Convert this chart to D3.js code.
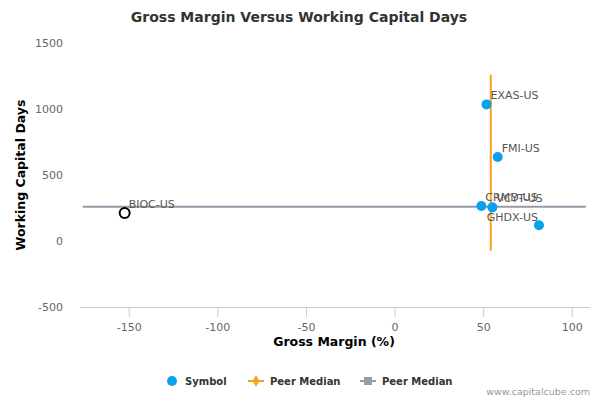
<!DOCTYPE html>
<html><head><meta charset="utf-8">
<script src="https://cdn.jsdelivr.net/npm/d3@7/dist/d3.min.js"></script>
<style>body{margin:0;background:#fff;}svg{display:block;font-family:"DejaVu Sans",sans-serif;}</style>
</head><body>
<svg id="c" width="600" height="400"></svg>
<script>
const symbols = ["EXAS-US","FMI-US","CRMD-US","VCYT-US","GHDX-US"];
const grossMargin = [51.9, 58.2, 49.0, 55.2, 81.5];
const wcDays = [1035, 636, 265, 255, 119];
const focusSymbol = ["BIOC-US"];
const focusGM = [-152.3];
const focusWCD = [212];
const medianGM = 54.3;
const medianWCD = 260;
const vMedianRange = [-75, 1260];
const hMedianRange = [-176, 108];
const xTicks = [-150,-100,-50,0,50,100];
const yTicks = [-500,0,500,1000,1500];

const svg = d3.select("#c");
const L=80,R=590,T=43,B=307;
const x = d3.scaleLinear().domain([-177.5,110.3]).range([L,R]);
const y = d3.scaleLinear().domain([-500,1500]).range([B,T]);
const fmt = d => String(d);

svg.append("text").attr("x",299).attr("y",22).attr("text-anchor","middle")
  .attr("font-size",14).attr("font-weight","bold").attr("fill","#333").text("Gross Margin Versus Working Capital Days");

// x axis
const xa = svg.append("g").attr("transform",`translate(0,${B})`)
  .call(d3.axisBottom(x).tickValues(xTicks).tickSize(10).tickPadding(6).tickFormat(fmt));
xa.select(".domain").attr("stroke","#C0D0E0").attr("d",`M${L},0.5H${R}`);
xa.selectAll(".tick line").attr("stroke","#C0D0E0");
xa.selectAll("text").attr("font-size",11).attr("fill","#666").attr("font-family","DejaVu Sans");

// y axis
const ya = svg.append("g").attr("transform",`translate(${L},0)`)
  .call(d3.axisLeft(y).tickValues(yTicks).tickSize(0).tickPadding(17).tickFormat(fmt));
ya.select(".domain").remove();
ya.selectAll("text").attr("font-size",11).attr("fill","#666").attr("font-family","DejaVu Sans");

svg.append("text").attr("x",334).attr("y",346).attr("text-anchor","middle")
  .attr("font-size",12.5).attr("font-weight","bold").attr("fill","#000").text("Gross Margin (%)");
svg.append("text").attr("transform",`translate(25,175) rotate(-90)`).attr("text-anchor","middle")
  .attr("font-size",12.5).attr("font-weight","bold").attr("fill","#000").text("Working Capital Days");

// median lines
svg.append("line").attr("x1",x(hMedianRange[0])).attr("x2",x(hMedianRange[1]))
  .attr("y1",y(medianWCD)).attr("y2",y(medianWCD)).attr("stroke","#989aa8").attr("stroke-width",2);
svg.append("line").attr("x1",x(medianGM)).attr("x2",x(medianGM))
  .attr("y1",y(vMedianRange[1])).attr("y2",y(vMedianRange[0])).attr("stroke","#F8A21A").attr("stroke-width",2);

// points
const pts = symbols.map((s,i)=>({s,gm:grossMargin[i],w:wcDays[i]}));
svg.selectAll(".pt").data(pts).enter().append("circle")
  .attr("cx",d=>x(d.gm)).attr("cy",d=>y(d.w)).attr("r",5).attr("fill","#0AA0F0");
const fp = focusSymbol.map((s,i)=>({s,gm:focusGM[i],w:focusWCD[i]}));
svg.selectAll(".fp").data(fp).enter().append("circle")
  .attr("cx",d=>x(d.gm)).attr("cy",d=>y(d.w)).attr("r",5).attr("fill","#fff").attr("stroke","#000").attr("stroke-width",2);

// labels
const all = pts.concat(fp);
all.forEach(d=>{
  const t = svg.append("text").attr("font-size",11).attr("fill","#555")
    .attr("x",x(d.gm)+4).attr("y",y(d.w)-5).text(d.s);
  const w = t.node().getComputedTextLength();
  if (x(d.gm)+4+w > R) { t.attr("x",x(d.gm)-1).attr("text-anchor","end").attr("y",y(d.w)-4); }
});

// legend
const lg = svg.append("g").attr("font-size",10).attr("font-weight","bold").attr("fill","#333");
lg.append("circle").attr("cx",172).attr("cy",381).attr("r",5).attr("fill","#0AA0F0");
lg.append("text").attr("x",185).attr("y",385).text("Symbol");
lg.append("line").attr("x1",248).attr("x2",264).attr("y1",381).attr("y2",381).attr("stroke","#F8A21A").attr("stroke-width",2);
lg.append("path").attr("d",d3.symbol(d3.symbolDiamond,40)()).attr("transform","translate(256,381)").attr("fill","#F8A21A");
lg.append("text").attr("x",270).attr("y",385).text("Peer Median");
lg.append("line").attr("x1",360).attr("x2",376).attr("y1",381).attr("y2",381).attr("stroke","#989aa8").attr("stroke-width",2);
lg.append("rect").attr("x",364).attr("y",377).attr("width",8).attr("height",8).attr("fill","#989aa8");
lg.append("text").attr("x",382).attr("y",385).text("Peer Median");

svg.append("text").attr("x",590).attr("y",395).attr("text-anchor","end").attr("font-size",9.5).attr("fill","#999").text("www.capitalcube.com");
</script>
</body></html>
